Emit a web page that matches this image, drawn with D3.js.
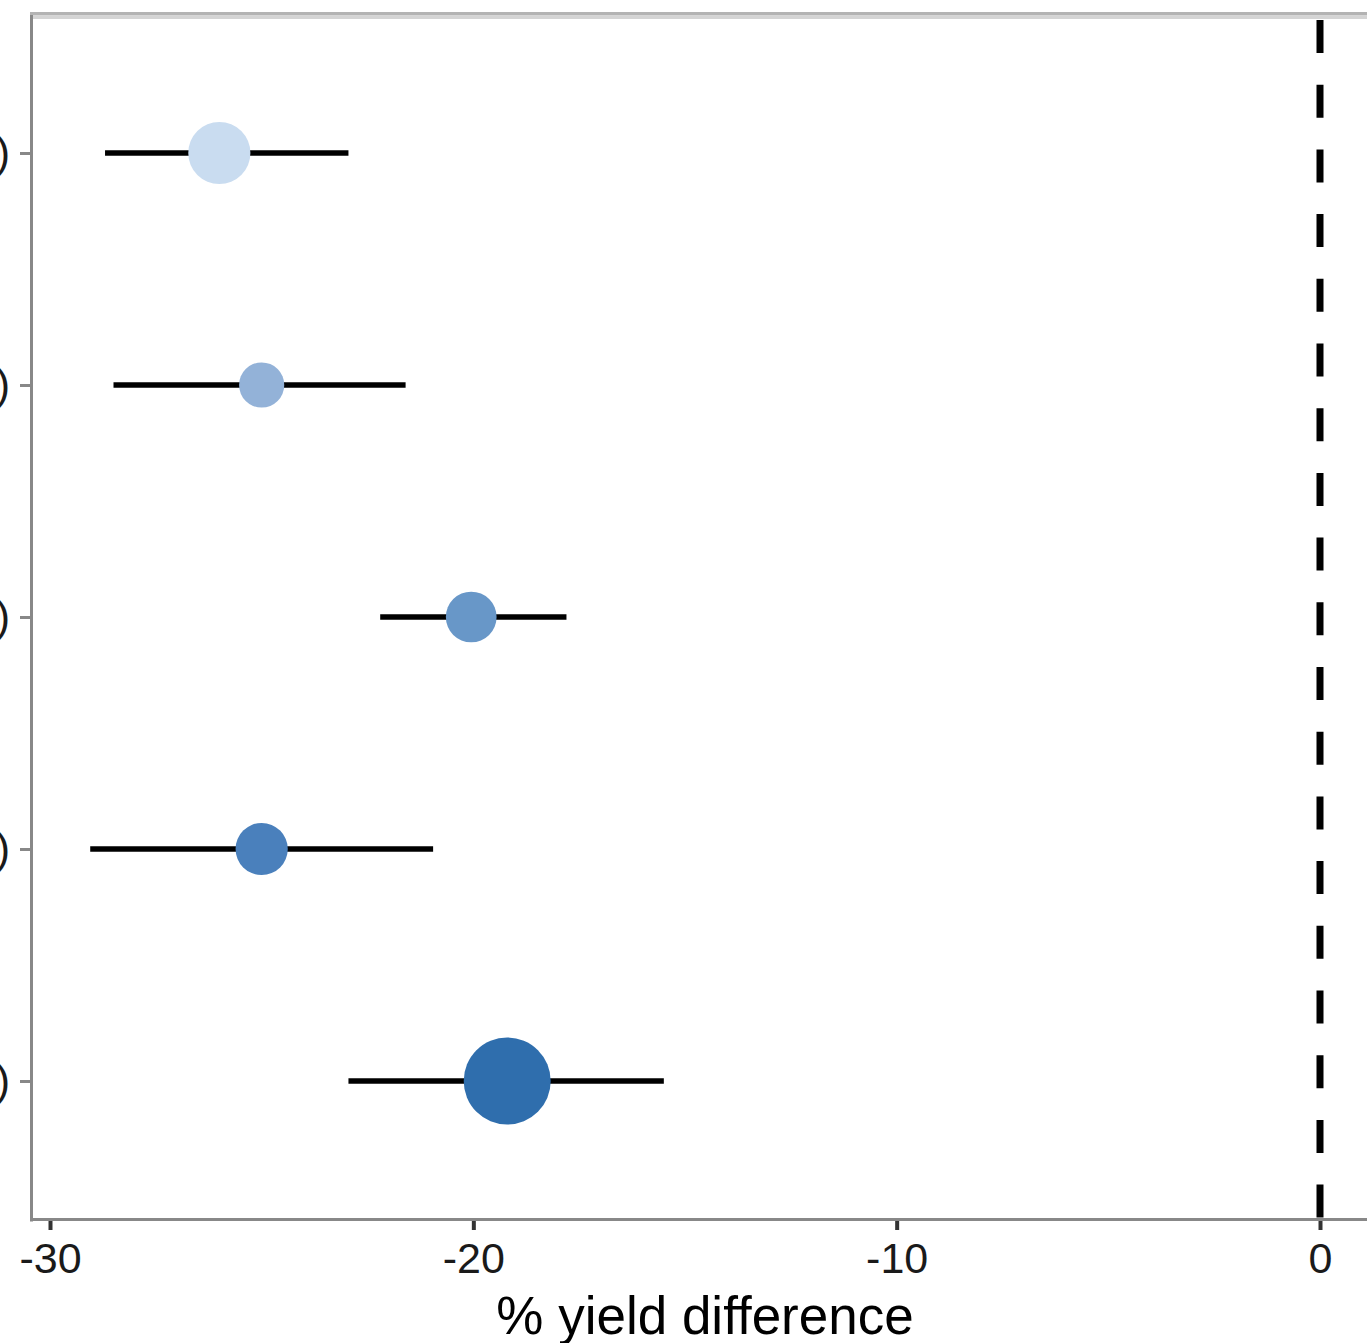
<!DOCTYPE html>
<html>
<head>
<meta charset="utf-8">
<script src="https://cdn.jsdelivr.net/npm/d3@7"></script>
<style>
  html, body { margin: 0; padding: 0; background: #fff; overflow: hidden; }
  svg { display: block; }
</style>
</head>
<body>
<script>
// ---- data ----
const categories = ["Group A (n = 51)", "Group B (n = 27)", "Group C (n = 34)", "Group D (n = 36)", "Group E (n = 100)"];
const estimate = [-26.0, -25.0, -20.05, -25.0, -19.2];
const ciLow = [-28.7, -28.5, -22.2, -29.05, -22.95];
const ciHigh = [-22.95, -21.6, -17.8, -20.95, -15.5];
const sampleSize = [51, 27, 34, 36, 100];
const fillColors = ["#c9dcf0", "#93b2d8", "#6897c8", "#4a80bc", "#2f6ead"];
const xTicks = [-30, -20, -10, 0];
const xTitle = "% yield difference";

// ---- layout ----
const W = 1367, H = 1343;
const panel = { left: 32, right: 1378, top: 15, bottom: 1220 };

const svg = d3.select("body").append("svg").attr("width", W).attr("height", H);

const x = d3.scaleLinear().domain([-30, 0]).range([50, 1320]);
const y = d3.scalePoint().domain(categories).range([153, 1081]);
const r = d3.scaleSqrt().domain([0, 100]).range([0, 43.5]);

// top border
svg.append("rect").attr("x", panel.left - 2).attr("y", 12).attr("width", W).attr("height", 3.5).attr("fill", "#b3b3b3");
svg.append("rect").attr("x", panel.left - 2).attr("y", 15.5).attr("width", W).attr("height", 3.5).attr("fill", "#d4d4d4");

// dashed zero line
svg.append("line")
  .attr("x1", x(0)).attr("x2", x(0))
  .attr("y1", 20).attr("y2", panel.bottom)
  .attr("stroke", "#000").attr("stroke-width", 7)
  .attr("stroke-dasharray", "33,31.7");

// error bars
const g = svg.append("g");
categories.forEach((c, i) => {
  g.append("line")
    .attr("x1", x(ciLow[i])).attr("x2", x(ciHigh[i]))
    .attr("y1", y(c)).attr("y2", y(c))
    .attr("stroke", "#000").attr("stroke-width", 5.5);
});
categories.forEach((c, i) => {
  g.append("circle")
    .attr("cx", x(estimate[i])).attr("cy", y(c))
    .attr("r", r(sampleSize[i]))
    .attr("fill", fillColors[i]);
});

// axes
const xAxis = d3.axisBottom(x).tickValues(xTicks).tickSize(10).tickPadding(10)
  .tickFormat(d => d === 0 ? "0" : "-" + Math.abs(d));
const gx = svg.append("g").attr("transform", `translate(0,${panel.bottom})`).call(xAxis);
gx.select(".domain").remove();
gx.selectAll(".tick line").attr("stroke", "#333").attr("stroke-width", 4);
gx.selectAll(".tick text")
  .attr("font-family", "Liberation Sans, Arial, sans-serif")
  .attr("font-size", 43).attr("fill", "#1a1a1a")
  .attr("dy", null).attr("y", 53);

const yAxis = d3.axisLeft(y).tickSize(12).tickPadding(10);
const gy = svg.append("g").attr("transform", `translate(${panel.left},0)`).call(yAxis);
gy.select(".domain").remove();
gy.selectAll(".tick line").attr("stroke", "#888").attr("stroke-width", 3);
gy.selectAll(".tick text")
  .attr("font-family", "Liberation Sans, Arial, sans-serif")
  .attr("font-size", 43).attr("fill", "#1a1a1a");

// axis lines
svg.append("line").attr("x1", panel.left - 0.5).attr("x2", panel.left - 0.5)
  .attr("y1", 15).attr("y2", panel.bottom + 1.5).attr("stroke", "#888").attr("stroke-width", 3);
svg.append("line").attr("x1", panel.left - 2).attr("x2", W)
  .attr("y1", panel.bottom - 0.5).attr("y2", panel.bottom - 0.5).attr("stroke", "#888").attr("stroke-width", 3);

// x title
svg.append("text")
  .attr("x", (panel.left + panel.right) / 2).attr("y", 1334)
  .attr("text-anchor", "middle")
  .attr("font-family", "Liberation Sans, Arial, sans-serif")
  .attr("font-size", 53).attr("fill", "#000")
  .text(xTitle);
</script>
</body>
</html>
